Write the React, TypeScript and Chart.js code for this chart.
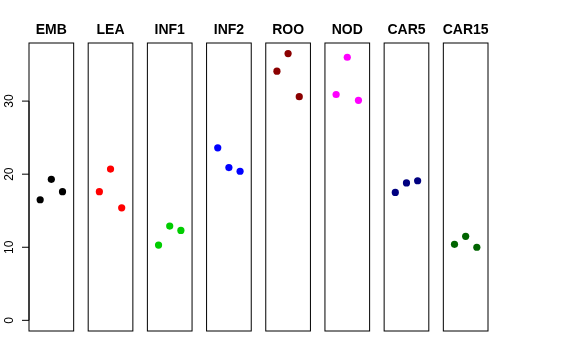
import React, { useEffect, useRef } from "react";
import { Chart, registerables } from "chart.js";

Chart.register(...registerables);

const categories = ["EMB", "LEA", "INF1", "INF2", "ROO", "NOD", "CAR5", "CAR15"];
const emb = [16.5, 19.3, 17.6];
const lea = [17.6, 20.7, 15.4];
const inf1 = [10.3, 12.9, 12.3];
const inf2 = [23.6, 20.9, 20.4];
const roo = [34.1, 36.5, 30.6];
const nod = [30.9, 36.0, 30.1];
const car5 = [17.5, 18.8, 19.1];
const car15 = [10.4, 11.5, 10.0];
const seriesValues = [emb, lea, inf1, inf2, roo, nod, car5, car15];
const colors = ["#000000", "#FF0000", "#00CD00", "#0000FF", "#8B0000", "#FF00FF", "#000080", "#006400"];
const yTicks = [0, 10, 20, 30];

const PANEL_W = 4; // local x range 0..4, points at 1,2,3
const PERIOD = 5.3; // panel width + gap in x units
const X_MAX = (categories.length - 1) * PERIOD + PANEL_W;
const Y_MIN = -1.46;
const Y_MAX = 37.95;

const panelPlugin = {
  id: "panels",
  beforeDatasetsDraw(chart: any) {
    const { ctx, chartArea, scales } = chart;
    const xs = scales.x;
    const ys = scales.y;
    ctx.save();
    ctx.strokeStyle = "#000";
    ctx.lineWidth = 1;
    categories.forEach((name, i) => {
      const l = xs.getPixelForValue(i * PERIOD);
      const r = xs.getPixelForValue(i * PERIOD + PANEL_W);
      ctx.strokeRect(l, chartArea.top, r - l, chartArea.bottom - chartArea.top);
      ctx.fillStyle = "#000";
      ctx.font = "bold 14px 'Liberation Sans', Arial, sans-serif";
      ctx.textAlign = "center";
      ctx.textBaseline = "alphabetic";
      ctx.fillText(name, (l + r) / 2, 34);
    });
    // y axis
    const ax = xs.getPixelForValue(0);
    ctx.beginPath();
    ctx.moveTo(ax, ys.getPixelForValue(yTicks[0]));
    ctx.lineTo(ax, ys.getPixelForValue(yTicks[yTicks.length - 1]));
    ctx.stroke();
    ctx.font = "12px 'Liberation Sans', Arial, sans-serif";
    yTicks.forEach((t) => {
      const py = ys.getPixelForValue(t);
      ctx.beginPath();
      ctx.moveTo(ax, py);
      ctx.lineTo(ax - 7, py);
      ctx.stroke();
      ctx.save();
      ctx.translate(ax - 16, py);
      ctx.rotate(-Math.PI / 2);
      ctx.textAlign = "center";
      ctx.textBaseline = "alphabetic";
      ctx.fillStyle = "#000";
      ctx.fillText(String(t), 0, 0);
      ctx.restore();
    });
    ctx.restore();
  },
};

export default function App() {
  const ref = useRef<HTMLCanvasElement | null>(null);
  useEffect(() => {
    if (!ref.current) return;
    const datasets = seriesValues.map((vals, i) => ({
      label: categories[i],
      data: vals.map((v, j) => ({ x: i * PERIOD + j + 1, y: v })),
      backgroundColor: colors[i],
      borderColor: colors[i],
      borderWidth: 0,
      pointRadius: 3.6,
      pointHoverRadius: 3.6,
    }));
    const chart = new Chart(ref.current, {
      type: "scatter",
      data: { datasets },
      options: {
        animation: false,
        responsive: false,
        maintainAspectRatio: false,
        layout: { padding: { left: 29, right: 88, top: 43, bottom: 29 } },
        plugins: { legend: { display: false }, tooltip: { enabled: false }, title: { display: false } },
        scales: {
          x: { type: "linear", min: 0, max: X_MAX, display: false },
          y: { type: "linear", min: Y_MIN, max: Y_MAX, display: false },
        },
      },
      plugins: [panelPlugin],
    });
    return () => chart.destroy();
  }, []);
  return (
    <div style={{ position: "fixed", left: 0, top: 0, width: 576, height: 360, background: "#fff" }}>
      <canvas ref={ref} width={576} height={360} style={{ width: 576, height: 360 }} />
    </div>
  );
}
